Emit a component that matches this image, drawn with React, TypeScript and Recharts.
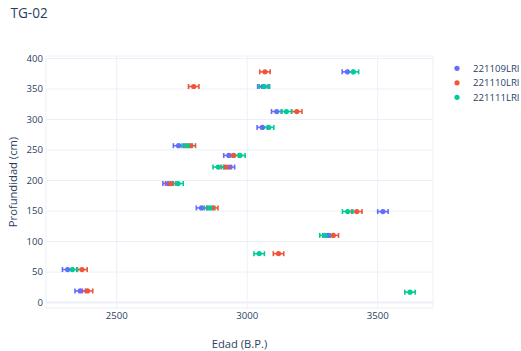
import React from "react";
import {
  ScatterChart,
  Scatter,
  XAxis,
  YAxis,
  CartesianGrid,
  ErrorBar,
  ReferenceLine,
  Label,
} from "recharts";

const FONT = '"Open Sans", "Noto Sans", sans-serif';
const INK = "#2a3f5f";
const GRID = "#ebf0f8";

const xTicks = [2500, 3000, 3500];
const yTicks = [0, 50, 100, 150, 200, 250, 300, 350, 400];

const seriesNames = ["221109LRI", "221110LRI", "221111LRI"];
const seriesColors = ["#636efa", "#ef553b", "#00cc96"];

// Edad (B.P.) and profundidad (cm) per sample
const age109 = [3384, 3060, 3113, 3058, 2737, 2930, 2932, 2697, 2825, 3520, 3310, 2312, 2360];
const depth109 = [378, 354, 313, 287, 257, 241, 222, 195, 155, 149, 110, 54, 19];

const age110 = [3068, 2795, 3190, 2782, 2947, 2920, 2707, 2868, 3420, 3330, 3120, 2367, 2388];
const depth110 = [378, 354, 313, 257, 241, 222, 195, 155, 149, 110, 80, 54, 19];

const age111 = [3407, 3066, 3150, 3082, 2770, 2972, 2889, 2735, 2856, 3385, 3298, 3046, 2330, 3624];
const depth111 = [378, 354, 313, 287, 257, 241, 222, 195, 155, 149, 110, 80, 54, 17];

const AGE_ERROR = 20;

const toRows = (ages: number[], depths: number[]) =>
  ages.map((age, i) => ({ age, depth: depths[i], err: AGE_ERROR }));

const series = [toRows(age109, depth109), toRows(age110, depth110), toRows(age111, depth111)];

const Dot = (props: any) => {
  const { cx, cy, fill } = props;
  if (cx == null || cy == null) return null;
  return <circle cx={cx} cy={cy} r={2.6} fill={fill} />;
};

export default function App() {
  return (
    <div style={{ position: "absolute", left: 0, top: 0, width: 521, height: 351, background: "#fff", fontFamily: FONT }}>
      <ScatterChart width={521} height={351} margin={{ top: 56, right: 88, bottom: 0, left: 0 }}>
        <CartesianGrid stroke={GRID} strokeWidth={1} />
        <XAxis
          type="number"
          dataKey="age"
          domain={[2229, 3712]}
          ticks={xTicks}
          allowDataOverflow
          height={43}
          tickLine={false}
          axisLine={false}
          tickSize={0}
          tickMargin={4}
          tick={{ fill: INK, fontSize: 9.6, fontFamily: FONT }}
        >
          <Label
            value="Edad (B.P.)"
            position="insideBottom"
            offset={3}
            style={{ fill: INK, fontSize: 11.2, fontFamily: FONT }}
          />
        </XAxis>
        <YAxis
          type="number"
          dataKey="depth"
          domain={[-9, 404]}
          ticks={yTicks}
          allowDataOverflow
          width={46}
          tickLine={false}
          axisLine={false}
          tickSize={0}
          tickMargin={3}
          tick={{ fill: INK, fontSize: 9.6, fontFamily: FONT }}
        >
          <Label
            value="Profundidad (cm)"
            angle={-90}
            position="insideLeft"
            offset={13}
            style={{ fill: INK, fontSize: 11.2, fontFamily: FONT, textAnchor: "middle" }}
          />
        </YAxis>
        <ReferenceLine y={0} stroke={GRID} strokeWidth={2} />
        {series.map((rows, i) => (
          <Scatter
            key={seriesNames[i]}
            name={seriesNames[i]}
            data={rows}
            fill={seriesColors[i]}
            shape={<Dot />}
            isAnimationActive={false}
          >
            <ErrorBar dataKey="err" direction="x" width={2.5} strokeWidth={1.6} stroke={seriesColors[i]} />
          </Scatter>
        ))}
      </ScatterChart>
      <svg
        width={521}
        height={351}
        style={{ position: "absolute", left: 0, top: 0, pointerEvents: "none" }}
      >
        <text x={10.5} y={17.5} fill={INK} fontSize={13.6} fontFamily={FONT}>
          TG-02
        </text>
        {seriesNames.map((name, i) => (
          <g key={name}>
            <circle cx={457} cy={68.3 + i * 14.5} r={2.6} fill={seriesColors[i]} />
            <text
              x={473}
              y={68.3 + i * 14.5}
              dominantBaseline="central"
              fill={INK}
              fontSize={9.6}
              fontFamily={FONT}
            >
              {name}
            </text>
          </g>
        ))}
      </svg>
    </div>
  );
}
